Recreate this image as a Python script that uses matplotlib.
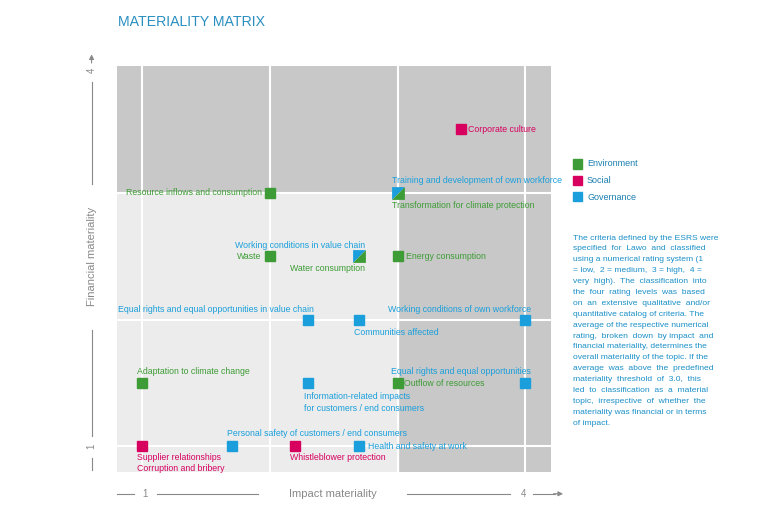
import matplotlib.pyplot as plt
from matplotlib.patches import Rectangle

GREEN = "#3d9c35"
RED = "#d7005f"
BLUE = "#1a9fdc"
GRAY = "#888888"
COLORS = {"E": GREEN, "S": RED, "G": BLUE}

# topic name, impact, financial, category, label offset (pt), ha
topics = [
    ("Corporate culture", 3.5, 3.5, "S", (5, 0), "left"),
    ("Resource inflows and consumption", 2.0, 3.0, "E", (-6, 0), "right"),
    ("Waste", 2.0, 2.5, "E", (-6, 0), "right"),
    ("Energy consumption", 3.0, 2.5, "E", (6, 0), "left"),
    ("Equal rights and equal opportunities in value chain", 2.3, 2.0, "G", (4, 7), "right"),
    ("Communities affected", 2.7, 2.0, "G", (-4, -9), "left"),
    ("Working conditions of own workforce", 4.0, 2.0, "G", (4, 7), "right"),
    ("Adaptation to climate change", 1.0, 1.5, "E", (-4, 8), "left"),
    ("Information-related impacts\nfor customers / end consumers", 2.3, 1.5, "G", (-3, -14), "left"),
    ("Outflow of resources", 3.0, 1.5, "E", (5, 0), "left"),
    ("Equal rights and equal opportunities", 4.0, 1.5, "G", (4, 8), "right"),
    ("Supplier relationships\nCorruption and bribery", 1.0, 1.0, "S", (-4, -12), "left"),
    ("Personal safety of customers / end consumers", 1.7, 1.0, "G", (-3, 9), "left"),
    ("Whistleblower protection", 2.2, 1.0, "S", (-4, -8), "left"),
    ("Health and safety at work", 2.7, 1.0, "G", (6, 0), "left"),
]

# shared positions: (impact, financial, [(label, cat, offset, ha), ...])
shared = [
    (3.0, 3.0, [("Training and development of own workforce", "G", (-4, 9), "left"),
                ("Transformation for climate protection", "E", (-4, -9), "left")]),
    (2.7, 2.5, [("Working conditions in value chain", "G", (4, 8), "right"),
                ("Water consumption", "E", (4, -9), "right")]),
]

legend_items = [("Environment", "E"), ("Social", "S"), ("Governance", "G")]

note_lines = [
    "The criteria defined by the ESRS were",
    "specified  for  Lawo  and  classified",
    "using a numerical rating system (1",
    "= low,  2 = medium,  3 = high,  4 =",
    "very  high).  The  classification  into",
    "the  four  rating  levels  was  based",
    "on  an  extensive  qualitative  and/or",
    "quantitative catalog of criteria. The",
    "average of the respective numerical",
    "rating,  broken  down  by impact  and",
    "financial materiality, determines the",
    "overall materiality of the topic. If the",
    "average  was  above  the  predefined",
    "materiality  threshold  of  3.0,  this",
    "led  to  classification  as  a  material",
    "topic,  irrespective  of  whether  the",
    "materiality was financial or in terms",
    "of impact.",
]

plt.rcParams["font.family"] = ["Liberation Sans", "DejaVu Sans"]
fig = plt.figure(figsize=(7.68, 5.14), dpi=100)
ax = fig.add_axes([0.152, 0.082, 0.565, 0.79])
xmin, xmax, ymin, ymax = 0.8, 4.2, 0.8, 4.0
ax.set_xlim(xmin, xmax)
ax.set_ylim(ymin, ymax)
ax.set_facecolor("#c8c8c8")
ax.add_patch(Rectangle((xmin, ymin), 3 - xmin, 3 - ymin, color="#ececec", zorder=0))
for v in [1, 2, 3, 4]:
    ax.axvline(v, color="white", lw=1.5, zorder=1)
for v in [1, 2, 3]:
    ax.axhline(v, color="white", lw=1.5, zorder=1)
for s in ax.spines.values():
    s.set_visible(False)
ax.set_xticks([])
ax.set_yticks([])

FS = 6.3
for name, x, y, cat, off, ha in topics:
    ax.plot(x, y, "s", ms=6.5, color=COLORS[cat], zorder=3)
    ax.annotate(name, (x, y), xytext=off, textcoords="offset points", ha=ha, va="center",
                fontsize=FS, color=COLORS[cat], linespacing=1.3, zorder=4)

tri_ul = [(-1, -1), (1, 1), (-1, 1), (-1, -1)]
tri_lr = [(-1, -1), (1, -1), (1, 1), (-1, -1)]
for x, y, labels in shared:
    ax.plot(x, y, marker=tri_ul, ms=9.2, color=BLUE, mew=0, zorder=3)
    ax.plot(x, y, marker=tri_lr, ms=9.2, color=GREEN, mew=0, zorder=3)
    for name, cat, off, ha in labels:
        ax.annotate(name, (x, y), xytext=off, textcoords="offset points", ha=ha, va="center",
                    fontsize=FS, color=COLORS[cat], zorder=4)

# axis decorations
kw = dict(transform=ax.transAxes, clip_on=False, color=GRAY, lw=0.8)
yb = -0.054
ax.plot([0, 0.04], [yb, yb], **kw)
ax.plot([0.092, 0.325], [yb, yb], **kw)
ax.plot([0.668, 0.906], [yb, yb], **kw)
ax.plot([0.96, 1.01], [yb, yb], **kw)
ax.annotate("", xy=(1.035, yb), xytext=(1.0, yb), xycoords="axes fraction",
            arrowprops=dict(arrowstyle="-|>", color=GRAY, lw=0.8, mutation_scale=7))
ax.text(0.064, yb, "1", transform=ax.transAxes, ha="center", va="center", fontsize=7, color=GRAY)
ax.text(0.937, yb, "4", transform=ax.transAxes, ha="center", va="center", fontsize=7, color=GRAY)
ax.text(0.497, yb, "Impact materiality", transform=ax.transAxes, ha="center", va="center",
        fontsize=8, color=GRAY)

xl = -0.058
ax.plot([xl, xl], [0.005, 0.035], **kw)
ax.plot([xl, xl], [0.089, 0.35], **kw)
ax.plot([xl, xl], [0.71, 0.96], **kw)
ax.annotate("", xy=(xl, 1.035), xytext=(xl, 1.0), xycoords="axes fraction",
            arrowprops=dict(arrowstyle="-|>", color=GRAY, lw=0.8, mutation_scale=7))
ax.text(xl, 0.062, "1", transform=ax.transAxes, ha="center", va="center", fontsize=7,
        color=GRAY, rotation=90)
ax.text(xl, 0.99, "4", transform=ax.transAxes, ha="center", va="center", fontsize=7,
        color=GRAY, rotation=90)
ax.text(xl, 0.53, "Financial materiality", transform=ax.transAxes, ha="center", va="center",
        fontsize=8, color=GRAY, rotation=90)

fig.text(118 / 768, 1 - 22 / 514, "MATERIALITY MATRIX", fontsize=10.2, color="#2a8fc0",
         va="center", ha="left")

for i, (name, cat) in enumerate(legend_items):
    yy = 1 - (164 + i * 16.5) / 514
    fig.patches.append(Rectangle((573 / 768, yy - 4.5 / 514), 9 / 768, 9 / 514,
                                 transform=fig.transFigure, color=COLORS[cat]))
    fig.text(587 / 768, yy, name, fontsize=6.5, color="#1a7fb0", va="center", ha="left")

for i, line in enumerate(note_lines):
    fig.text(573 / 768, 1 - (238 + i * 10.9) / 514, line, fontsize=6.1, color="#1a8fc8",
             va="center", ha="left")

fig.savefig("out.png", dpi=100, facecolor="white")
